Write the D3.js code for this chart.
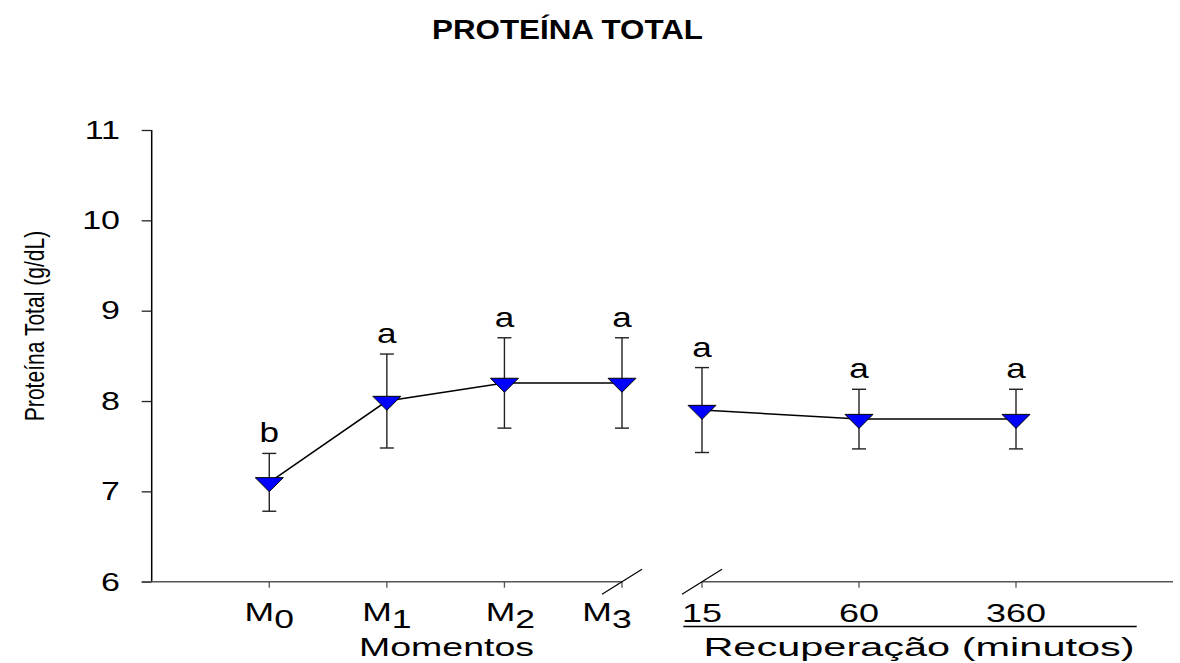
<!DOCTYPE html>
<html>
<head>
<meta charset="utf-8">
<script src="https://cdn.jsdelivr.net/npm/d3@7"></script>
<style>
  body { margin: 0; background: #fff; }
  text { font-family: "Liberation Sans", Arial, sans-serif; fill: #000; }
</style>
</head>
<body>
<script>
// data
const momentos = ["M0", "M1", "M2", "M3"];
const recuperacao = ["15", "60", "360"];
const meanMomentos = [7.1, 8.0, 8.2, 8.2];
const sdMomentos = [0.32, 0.52, 0.5, 0.5];
const meanRecup = [7.9, 7.8, 7.8];
const sdRecup = [0.47, 0.33, 0.33];
const letrasMomentos = ["b", "a", "a", "a"];
const letrasRecup = ["a", "a", "a"];
const yTicks = [6, 7, 8, 9, 10, 11];

const width = 1180;
const height = 663;

const svg = d3.select('body')
    .append('svg')
    .attr('width', width)
    .attr('height', height);

const y = d3.scaleLinear().domain([6, 11]).range([581.7, 130]);
// left block: index -1 is the y axis, right block ends one step after 360
const xLeft = d3.scaleLinear().domain([-1, 3]).range([151.7, 622]);
const xRight = d3.scaleLinear().domain([0, 3]).range([702, 1173]);

// text stretched sideways like in the original export
const label = (parent, x, yy, k, rot) => parent.append('g')
    .attr('transform', `translate(${x},${yy})` + (rot ? ` rotate(${rot})` : '') + ` scale(${k},1)`)
    .append('text')
    .attr('text-anchor', 'middle');

// title
label(svg, 567.5, 39.3, 1.1)
    .style('font-weight', 'bold')
    .style('font-size', '28.5px')
    .text('PROTEÍNA TOTAL');

// y axis
const yAxis = d3.axisLeft(y).tickValues(yTicks).tickSize(10).tickFormat(d3.format('d'));
const gy = svg.append('g').attr('transform', 'translate(151.7,0)');
yAxis(gy);
gy.select('.domain').attr('stroke', '#000').attr('stroke-width', 1.5).attr('d', `M0,${y(11)}V${y(6)}`);
gy.selectAll('.tick line').attr('stroke', '#222').attr('stroke-width', 1.3);
gy.selectAll('.tick text').remove();
yTicks.forEach(t => {
  svg.append('g')
    .attr('transform', `translate(120,${y(t) + 8.8}) scale(1.36,1)`)
    .append('text')
    .attr('text-anchor', 'end')
    .style('font-size', '25px')
    .text(t);
});

// y label (condensed face)
label(svg, 44, 326, 0.78, -90)
    .style('font-size', '27px')
    .text('Proteína Total (g/dL)');

// x axes
const axisColor = '#555';
svg.append('line')
    .attr('x1', 141.7).attr('x2', xLeft(3)).attr('y1', y(6)).attr('y2', y(6))
    .attr('stroke', axisColor).attr('stroke-width', 1.5);
svg.append('line')
    .attr('x1', xRight(0)).attr('x2', xRight(3)).attr('y1', y(6)).attr('y2', y(6))
    .attr('stroke', axisColor).attr('stroke-width', 1.5);

const tickPos = momentos.map((d, i) => xLeft(i)).concat(recuperacao.map((d, i) => xRight(i)));
svg.selectAll('.xtick')
    .data(tickPos)
    .enter()
    .append('line')
    .attr('x1', d => d).attr('x2', d => d)
    .attr('y1', y(6)).attr('y2', y(6) + 6)
    .attr('stroke', axisColor).attr('stroke-width', 1.3);

// axis break marks
[xLeft(3), xRight(0)].forEach(cx => {
  svg.append('line')
    .attr('x1', cx - 20).attr('y1', y(6) + 12.6)
    .attr('x2', cx + 20).attr('y2', y(6) - 12.4)
    .attr('stroke', '#000').attr('stroke-width', 1.2);
});

// x tick labels
const nudge = { M2: 6, M3: -15 };
momentos.forEach((m, i) => {
  const t = label(svg, xLeft(i) + (nudge[m] || 0), 621, 1.42).style('font-size', '25px');
  t.append('tspan').text(m[0]);
  t.append('tspan').attr('dy', 6.5).text(m.slice(1));
});
recuperacao.forEach((r, i) => {
  label(svg, xRight(i), 621.5, 1.44).style('font-size', '25px').text(r);
});

// group titles
label(svg, 446.5, 655.5, 1.5).style('font-size', '25px').text('Momentos');
svg.append('line')
    .attr('x1', 683.3).attr('x2', 1136.7).attr('y1', 626.5).attr('y2', 626.5)
    .attr('stroke', '#000').attr('stroke-width', 1.3);
label(svg, 919, 655.5, 1.66).style('font-size', '25px').text('Recuperação (minutos)');

// series
const blocks = [
  { x: xLeft, mean: meanMomentos, sd: sdMomentos, letters: letrasMomentos },
  { x: xRight, mean: meanRecup, sd: sdRecup, letters: letrasRecup }
];

const line = d3.line().x(d => d[0]).y(d => d[1]);
const tri = 'M-14,-4.7L14,-4.7L0,9.3Z';

blocks.forEach(b => {
  const pts = b.mean.map((m, i) => [b.x(i), y(m)]);

  const g = svg.append('g');
  // error bars
  b.mean.forEach((m, i) => {
    const cx = b.x(i);
    const top = y(m + b.sd[i]);
    const bot = y(m - b.sd[i]);
    g.append('line').attr('x1', cx).attr('x2', cx).attr('y1', top).attr('y2', bot)
      .attr('stroke', '#222').attr('stroke-width', 1.4);
    [top, bot].forEach(v => g.append('line')
      .attr('x1', cx - 7).attr('x2', cx + 7).attr('y1', v).attr('y2', v)
      .attr('stroke', '#222').attr('stroke-width', 1.4));
    label(g, cx, top - 11, 1.3).style('font-size', '27px').text(b.letters[i]);
  });

  g.append('path')
    .attr('d', line(pts))
    .attr('fill', 'none')
    .attr('stroke', '#000')
    .attr('stroke-width', 1.5);

  g.selectAll('.mk')
    .data(pts)
    .enter()
    .append('path')
    .attr('d', tri)
    .attr('transform', d => `translate(${d[0]},${d[1]})`)
    .attr('fill', '#0000ff')
    .attr('stroke', '#000')
    .attr('stroke-width', 1);
});
</script>
</body>
</html>
